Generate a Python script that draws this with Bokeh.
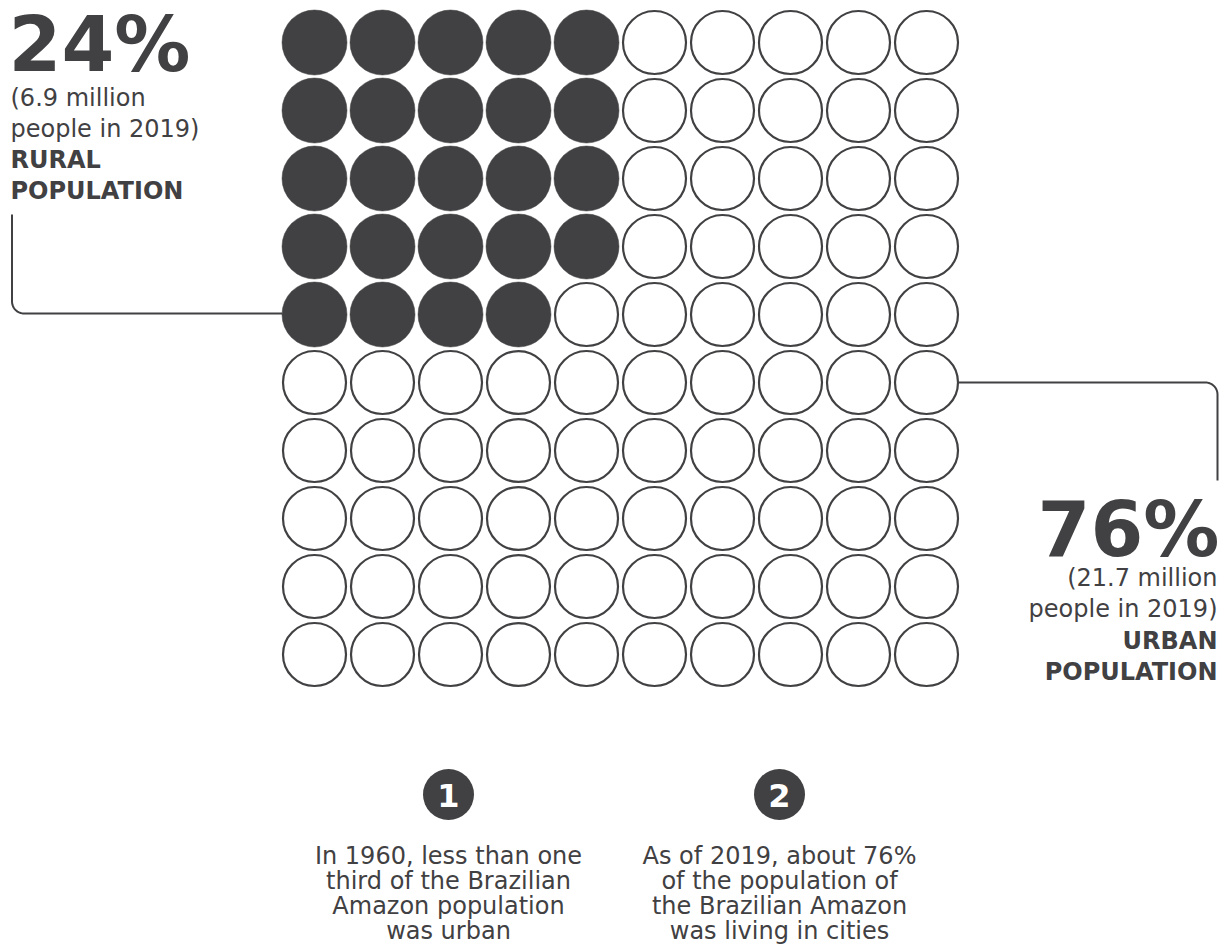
import numpy as np
from bokeh.plotting import figure
from bokeh.models import Range1d
from bokeh.core.properties import value
from bokeh.embed import file_html
from bokeh.resources import INLINE

# ---- data ----
categories = ["Rural", "Urban"]
shares = [24, 76]                 # percent of population
people_millions = [6.9, 21.7]     # people in 2019
year = 2019
grid_rows = 10
grid_cols = 10
fill_cols_first = 5               # rural units are filled row by row over the first 5 columns

notes = [
    ["In 1960, less than one", "third of the Brazilian", "Amazon population", "was urban"],
    ["As of 2019, about 76%", "of the population of", "the Brazilian Amazon", "was living in cities"],
]
note_numbers = ["1", "2"]

DARK = "#414042"
W, H = 1227, 950

p = figure(width=W, height=H, output_backend="svg", toolbar_location=None,
           x_range=Range1d(0, W), y_range=Range1d(H, 0),
           min_border=0, background_fill_color="white", border_fill_color="white")
p.axis.visible = False
p.grid.visible = False
p.outline_line_color = None

# ---- waffle grid ----
x0, y0, pitch, r = 314.0, 42.0, 68.0, 31.5
rural_units = shares[0]
fx, fy, ex, ey = [], [], [], []
k = 0
for row in range(grid_rows):
    for col in range(grid_cols):
        cx, cy = x0 + col * pitch, y0 + row * pitch
        if col < fill_cols_first and k < rural_units:
            fx.append(cx); fy.append(cy); k += 1
        else:
            ex.append(cx); ey.append(cy)

p.circle(x=fx, y=fy, radius=r + 1, fill_color=DARK, line_color=DARK, line_width=0.5)
p.circle(x=ex, y=ey, radius=r, fill_color="white", line_color=DARK, line_width=2.2)

# ---- connectors ----
def corner(cx, cy, rad, a0, a1, n=12):
    t = np.linspace(a0, a1, n)
    return list(cx + rad * np.cos(t)), list(cy + rad * np.sin(t))

cr = 12
lx, ly = corner(11.5 + cr, 313 - cr, cr, np.pi, np.pi / 2)
p.line([11.5] + lx + [x0 - r - 1], [214] + ly + [313], line_color=DARK, line_width=2)
rx, ry = corner(1217 - cr, 382 + cr, cr, -np.pi / 2, 0)
p.line([x0 + (grid_cols - 1) * pitch + r + 1] + rx + [1217], [382] + ry + [480],
       line_color=DARK, line_width=2)

HEAVY = value("DejaVu Sans")
BODY = value("DejaVu Sans")
SZ = "24px"

# ---- left labels (rural) ----
p.text(x=[8], y=[44], text=[f"{shares[0]}%"], text_font=HEAVY, text_font_style="bold",
       text_font_size="76px", text_color=DARK, text_align="left", text_baseline="alphabetic")
p.text(x=[10, 10], y=[97, 128],
       text=[f"({people_millions[0]} million", f"people in {year})"],
       text_font=BODY, text_font_size=SZ, text_color=DARK,
       text_align="left", text_baseline="alphabetic")
p.text(x=[10, 10], y=[159, 190], text=[f"{categories[0].upper()}", "POPULATION"],
       text_font=BODY, text_font_style="bold", text_font_size=SZ, text_color=DARK,
       text_align="left", text_baseline="alphabetic")

# ---- right labels (urban) ----
p.text(x=[1219], y=[529], text=[f"{shares[1]}%"], text_font=HEAVY, text_font_style="bold",
       text_font_size="76px", text_color=DARK, text_align="right", text_baseline="alphabetic")
p.text(x=[1217, 1217], y=[577, 608],
       text=[f"({people_millions[1]} million", f"people in {year})"],
       text_font=BODY, text_font_size=SZ, text_color=DARK,
       text_align="right", text_baseline="alphabetic")
p.text(x=[1217, 1217], y=[640, 671], text=[f"{categories[1].upper()}", "POPULATION"],
       text_font=BODY, text_font_style="bold", text_font_size=SZ, text_color=DARK,
       text_align="right", text_baseline="alphabetic")

# ---- numbered notes ----
note_x = [448, 779]
p.circle(x=note_x, y=[794, 794], radius=25.5, fill_color=DARK, line_color=None)
p.text(x=note_x, y=[795, 795], text=note_numbers, text_font=HEAVY, text_font_style="bold",
       text_font_size="32px", text_color="white", text_align="center", text_baseline="middle")
for nx, lines in zip(note_x, notes):
    p.text(x=[nx] * len(lines), y=[855 + 25 * i for i in range(len(lines))], text=lines,
           text_font=BODY, text_font_size=SZ, text_color=DARK,
           text_align="center", text_baseline="alphabetic")

open("out.html", "w").write(file_html(p, INLINE))
